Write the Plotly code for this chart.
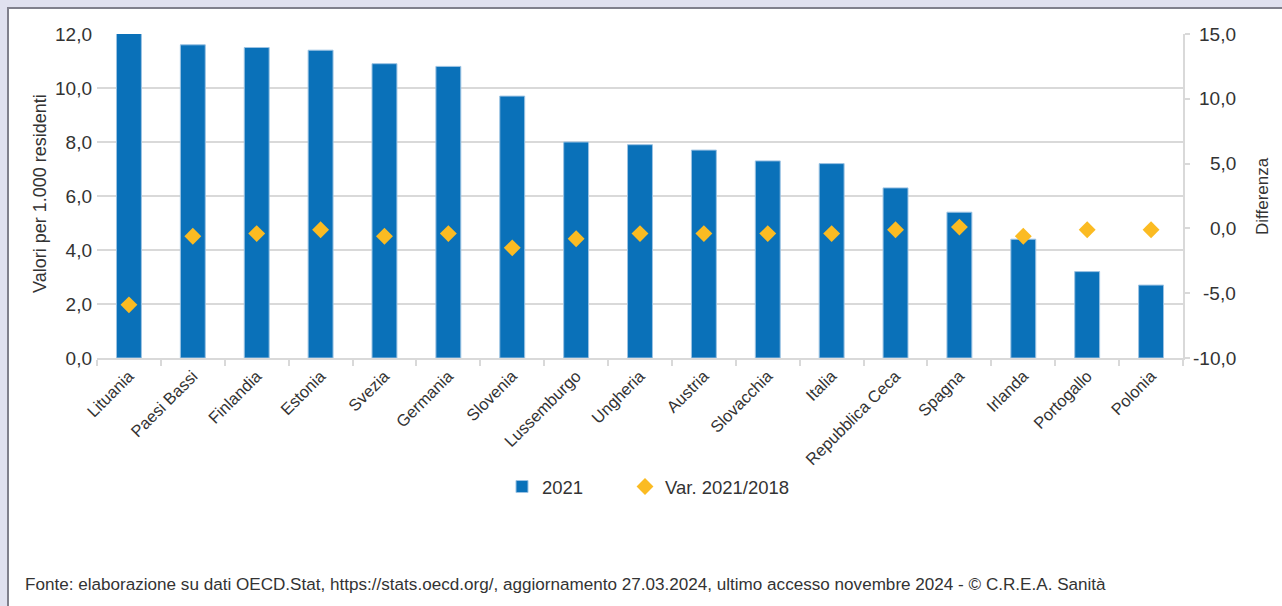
import plotly.graph_objects as go

countries = ["Lituania", "Paesi Bassi", "Finlandia", "Estonia", "Svezia", "Germania",
             "Slovenia", "Lussemburgo", "Ungheria", "Austria", "Slovacchia", "Italia",
             "Repubblica Ceca", "Spagna", "Irlanda", "Portogallo", "Polonia"]
values_2021 = [12.1, 11.6, 11.5, 11.4, 10.9, 10.8, 9.7, 8.0, 7.9, 7.7, 7.3, 7.2,
               6.3, 5.4, 4.4, 3.2, 2.7]
var_2021_2018 = [-5.9, -0.6, -0.4, -0.1, -0.6, -0.4, -1.5, -0.8, -0.4, -0.4, -0.4, -0.4,
                 -0.1, 0.1, -0.6, -0.1, -0.1]
right_ticks = [-10, -5, 0, 5, 10, 15]

W, H = 1282, 606
ML, MR, MT, MB = 97, 99, 34, 248
PW, PH = W - ML - MR, H - MT - MB

def px_x(p):
    return (p - ML) / PW

def px_y(p):
    return (H - MB - p) / PH

FONT = "Liberation Sans, Arial, sans-serif"
TXT = "#333333"
GRID = "#d9d9d9"

fig = go.Figure()
fig.add_trace(go.Bar(
    x=countries, y=values_2021, name="2021",
    marker=dict(color="#0a71b9", line=dict(color="#9cc3e3", width=1)),
    width=0.39, yaxis="y", legend="legend",
))
fig.add_trace(go.Scatter(
    x=countries, y=var_2021_2018, name="Var. 2021/2018", mode="markers",
    marker=dict(symbol="diamond", size=13, color="#fbbb22"),
    yaxis="y2", legend="legend2",
))

shapes = [
    dict(type="rect", xref="paper", yref="paper", layer="below",
         x0=px_x(8), x1=px_x(W + 5), y0=px_y(H + 5), y1=px_y(8),
         fillcolor="white", line=dict(color="#80808c", width=2)),
]

annotations = [
    dict(text="Valori per 1.000 residenti", xref="paper", yref="paper",
         x=px_x(40), y=px_y(194), textangle=-90, showarrow=False,
         font=dict(family=FONT, size=18, color=TXT), xanchor="center", yanchor="middle"),
    dict(text="Differenza", xref="paper", yref="paper",
         x=px_x(1262), y=px_y(196), textangle=-90, showarrow=False,
         font=dict(family=FONT, size=17, color=TXT), xanchor="center", yanchor="middle"),
    dict(text="Fonte: elaborazione su dati OECD.Stat, https://stats.oecd.org/, aggiornamento 27.03.2024, ultimo accesso novembre 2024 - © C.R.E.A. Sanità",
         xref="paper", yref="paper", x=px_x(23), y=px_y(584), showarrow=False,
         xanchor="left", yanchor="middle", font=dict(family=FONT, size=17.1, color=TXT)),
]
for t in right_ticks:
    annotations.append(dict(
        text=f"{t:.1f}".replace(".", ","), xref="paper", yref="y2",
        x=px_x(1238), y=t, showarrow=False, xanchor="right", yanchor="middle",
        font=dict(family=FONT, size=19, color=TXT)))

legend_common = dict(orientation="h", xanchor="left", yanchor="middle", y=px_y(487),
                     font=dict(family=FONT, size=18.5, color=TXT),
                     bgcolor="rgba(0,0,0,0)")

fig.update_layout(
    width=W, height=H,
    margin=dict(l=ML, r=MR, t=MT, b=MB, pad=0),
    paper_bgcolor="#e0e1ef", plot_bgcolor="white",
    separators=",.",
    font=dict(family=FONT, size=16, color=TXT),
    showlegend=True,
    legend=dict(x=px_x(502), **legend_common),
    legend2=dict(x=px_x(625), **legend_common),
    bargap=0.61,
    xaxis=dict(range=[-0.5, len(countries) - 0.5], tickangle=-45, showline=True,
               linecolor=GRID, linewidth=2,
               ticks="outside", tickson="boundaries", ticklen=6, tickwidth=2, tickcolor=GRID,
               showgrid=False, tickfont=dict(family=FONT, size=16.5, color=TXT)),
    yaxis=dict(range=[0, 12], dtick=2, tickformat=".1f", showgrid=True, gridcolor=GRID,
               gridwidth=2, showline=False, zeroline=False, ticks="", ticklabelstandoff=4,
               tickfont=dict(family=FONT, size=19, color=TXT)),
    yaxis2=dict(range=[-10, 15], tickvals=right_ticks, showticklabels=False, overlaying="y",
                side="right", showgrid=False, zeroline=False, showline=True, linecolor=GRID,
                linewidth=2, ticks="outside", ticklen=5, tickwidth=2, tickcolor=GRID),
    shapes=shapes,
    annotations=annotations,
)

fig.write_html("out.html", config={"displayModeBar": False},
               post_script="document.body.style.margin='0';document.body.style.padding='0';")
